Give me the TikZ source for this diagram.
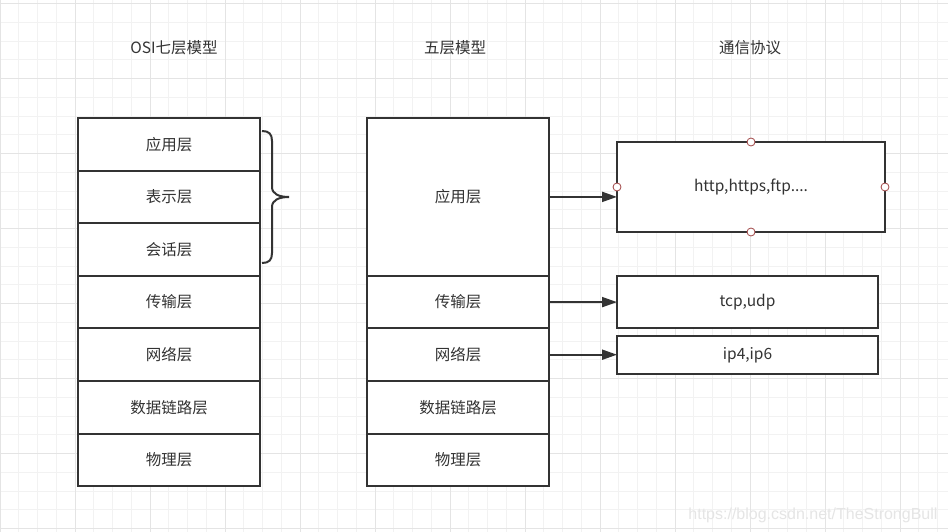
\documentclass[tikz,border=0pt]{standalone}
\usepackage{fontspec}
\setmainfont{Noto Sans CJK SC}
\newfontfamily\markfont{Liberation Sans}
\usetikzlibrary{positioning,arrows.meta}
\definecolor{ink}{HTML}{333333}
\definecolor{gridminor}{HTML}{F2F2F2}
\definecolor{gridmajor}{HTML}{E4E4E4}
\definecolor{portred}{HTML}{A04545}
\tikzset{
  layer/.style={draw=ink, line width=2pt, fill=white, minimum width=182pt,
    minimum height=52.6pt, inner sep=0pt, outer sep=0pt, text=ink,
    font=\fontsize{15.5}{18}\selectfont},
  proto/.style={layer, minimum width=261pt},
  title/.style={text=ink, font=\fontsize{15.5}{18}\selectfont},
  link/.style={draw=ink, line width=2pt, -{Triangle[length=15pt,width=10pt]}},
  port/.style={draw=portred, fill=white, line width=0.8pt}
}
\begin{document}
\begin{tikzpicture}[x=1pt,y=-1pt,node distance=0pt]
  \useasboundingbox[fill=white] (0,0) rectangle (948,532);
  % grid
  \foreach \i in {0,...,50}
    \draw[gridminor, line width=0.8pt] (18.75*\i,0) -- (18.75*\i,532);
  \foreach \j in {0,...,28}
    \draw[gridminor, line width=0.8pt] (0,3.5+18.75*\j) -- (948,3.5+18.75*\j);
  \foreach \i in {0,...,12}
    \draw[gridmajor, line width=0.8pt] (75*\i,0) -- (75*\i,532);
  \foreach \j in {0,...,7}
    \draw[gridmajor, line width=0.8pt] (0,3.5+75*\j) -- (948,3.5+75*\j);

  % titles
  \node[title] (osititle) at (174,48) {OSI七层模型};
  \node[title] (fivetitle) at (455,48) {五层模型};
  \node[title] (prototitle) at (750,48) {通信协议};

  % OSI seven layers
  \node[layer, anchor=north] (osi1) at (169,118) {应用层};
  \node[layer, below=of osi1] (osi2) {表示层};
  \node[layer, below=of osi2] (osi3) {会话层};
  \node[layer, below=of osi3] (osi4) {传输层};
  \node[layer, below=of osi4] (osi5) {网络层};
  \node[layer, below=of osi5] (osi6) {数据链路层};
  \node[layer, below=of osi6] (osi7) {物理层};

  % five layers
  \node[layer, anchor=north, minimum height=157.8pt] (app5) at (458,118) {应用层};
  \node[layer, below=of app5] (trans5) {传输层};
  \node[layer, below=of trans5] (net5) {网络层};
  \node[layer, below=of net5] (link5) {数据链路层};
  \node[layer, below=of link5] (phys5) {物理层};

  % brace over the top three
  \draw[ink, line width=2pt] (262,131) .. controls (269,131) and (272,134) .. (272,141)
    -- (272,187) .. controls (272,194) and (279,197) .. (289,197)
    .. controls (279,197) and (272,200) .. (272,207)
    -- (272,253) .. controls (272,260) and (269,263) .. (262,263);

  % protocols
  \node[layer, minimum width=268pt, minimum height=90pt] (http) at (751,187) {http,https,ftp....};
  \node[proto, minimum height=52pt] (tcp) at (747.5,302) {tcp,udp};
  \node[proto, minimum height=38pt] (ip) at (747.5,355) {ip4,ip6};

  \draw[link] (app5.east) -- (app5.east -| http.west);
  \draw[link] (trans5.east) -- (trans5.east -| tcp.west);
  \draw[link] (net5.east) -- (net5.east -| ip.west);

  \foreach \a in {north,south,east,west}
    \draw[port] (http.\a) circle (4pt);

  \node[anchor=east, text=black!10, font=\markfont\fontsize{16}{18}\selectfont] (mark) at (941,515)
    {https://blog.csdn.net/TheStrongBull};
\end{tikzpicture}
\end{document}
